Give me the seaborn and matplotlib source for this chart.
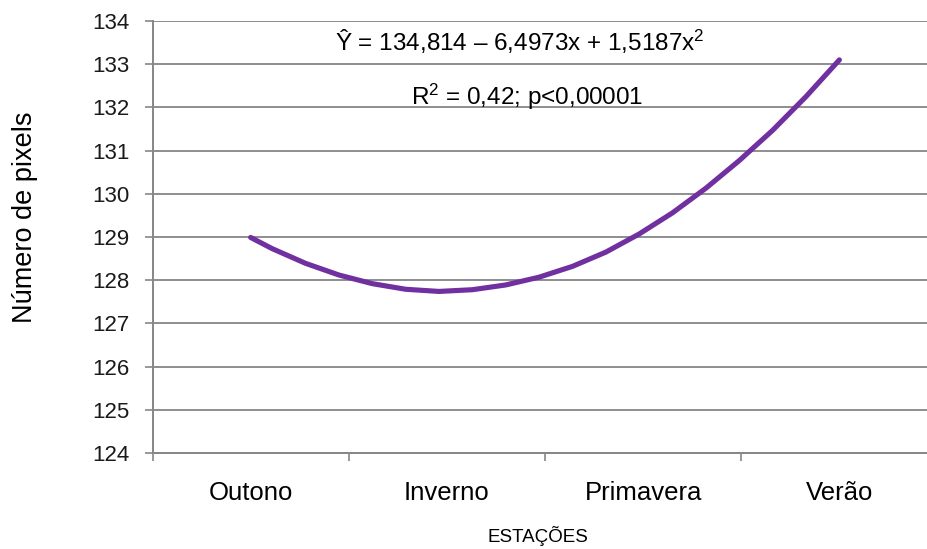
import matplotlib
matplotlib.use("Agg")
import matplotlib.pyplot as plt
import seaborn as sns
import pandas as pd

# Categories (seasons)
categories = ["Outono", "Inverno", "Primavera", "Verão"]
# Curve: position along the category axis and value
curve_pos = [0.0, 0.11, 0.28, 0.45, 0.62, 0.79, 0.96, 1.13, 1.30, 1.47,
             1.64, 1.81, 1.98, 2.15, 2.32, 2.49, 2.66, 2.83, 3.0]
curve_val = [128.99, 128.73, 128.39, 128.12, 127.92, 127.79, 127.74, 127.78,
             127.89, 128.07, 128.32, 128.65, 129.07, 129.56, 130.13, 130.77,
             131.47, 132.25, 133.10]
y_ticks = [124, 125, 126, 127, 128, 129, 130, 131, 132, 133, 134]

equation = "Ŷ = 134,814 – 6,4973x + 1,5187x$^{2}$"
stats_text = "R$^{2}$ = 0,42; p<0,00001"
x_title = "ESTAÇÕES"
y_title = "Número de pixels"

sns.set_theme(style="white")
plt.rcParams["font.family"] = ["Liberation Sans", "DejaVu Sans"]
plt.rcParams["mathtext.fontset"] = "custom"
plt.rcParams["mathtext.rm"] = "Liberation Sans"
plt.rcParams["mathtext.it"] = "Liberation Sans:italic"
plt.rcParams["mathtext.bf"] = "Liberation Sans:bold"

GRAY = "#868686"
PURPLE = "#7030A0"

fig = plt.figure(figsize=(9.27, 5.49), dpi=100)
ax = fig.add_axes([152.5 / 927, 96 / 549, 785 / 927, 432 / 549])

df = pd.DataFrame({"pos": curve_pos, "val": curve_val})
sns.lineplot(data=df, x="pos", y="val", ax=ax, color=PURPLE, linewidth=3.7,
             solid_capstyle="round", solid_joinstyle="round", zorder=3)

ax.set_xlim(-0.5, 3.5)
ax.set_ylim(124, 134)

ax.set_yticks(y_ticks)
ax.set_yticklabels([str(t) for t in y_ticks])
ax.yaxis.grid(True, color=GRAY, linewidth=1.3, zorder=0)
ax.xaxis.grid(False)
ax.set_axisbelow(True)

ax.set_xticks(range(len(categories)))
ax.set_xticklabels(categories)
ax.set_xticks([-0.5, 0.5, 1.5, 2.5, 3.5], minor=True)

ax.tick_params(axis="y", which="major", direction="out", length=5.5, width=1.2,
               color=GRAY, left=True, pad=11, labelsize=16, labelcolor="#1a1a1a")
ax.tick_params(axis="x", which="major", length=0, pad=20, labelsize=18.5,
               labelcolor="#000000")
ax.tick_params(axis="x", which="minor", direction="out", length=5.5, width=1.2,
               color=GRAY, bottom=True)

for side in ["top", "right"]:
    ax.spines[side].set_visible(False)
for side in ["left", "bottom"]:
    ax.spines[side].set_color(GRAY)
    ax.spines[side].set_linewidth(1.4)

ax.set_xlabel("")
ax.set_ylabel("")

fig.text(520 / 927, 1 - 42 / 549, equation, ha="center", va="center",
         fontsize=17.5, color="#000000")
fig.text(527 / 927, 1 - 97 / 549, stats_text, ha="center", va="center",
         fontsize=17.5, color="#000000")

fig.text(538 / 927, 1 - 536 / 549, x_title, ha="center", va="center",
         fontsize=13.5, color="#000000")
fig.text(25 / 927, 1 - 217 / 549, y_title, ha="center", va="center",
         rotation=90, fontsize=19.5, color="#000000")

fig.savefig("out.png", dpi=100)
